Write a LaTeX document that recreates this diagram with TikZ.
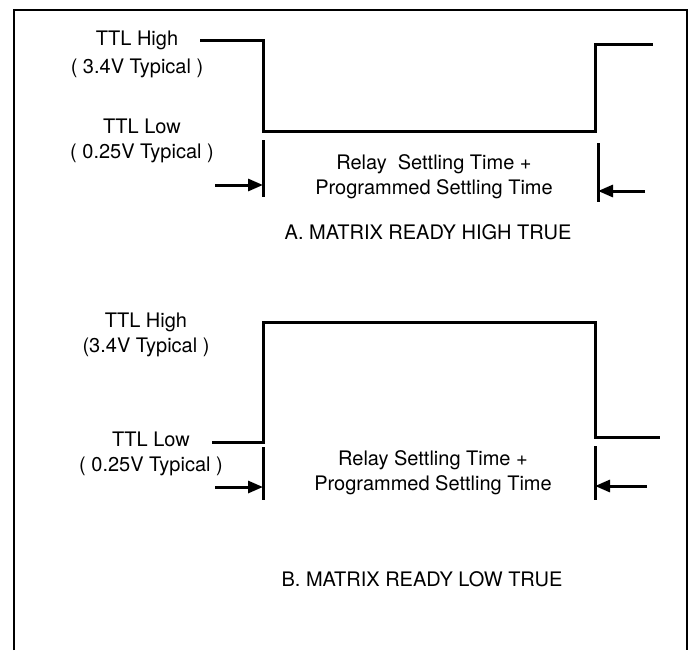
\documentclass[tikz,border=0pt]{standalone}
\usepackage{fontspec}
\setmainfont{TeX Gyre Heros}
\usetikzlibrary{arrows.meta}
\begin{document}
\begin{tikzpicture}[x=1pt, y=-1pt,
        frame/.style={line width=2pt},
        wave/.style={line width=3pt, line join=miter},
        limit/.style={line width=3pt},
        arrow/.style={-{Triangle[length=15pt, width=12pt]}, line width=3pt},
        lbl/.style={font=\fontsize{20}{25}\selectfont, align=center, inner sep=0pt}
    ]
    \useasboundingbox (0,0) rectangle (692,650);
    \draw[frame] (14,650) -- (14,10) -- (687,10) -- (687,650);

    % A. high true
    \node[lbl] (ahigh) at (137,54) {TTL High\\[3pt]( 3.4V Typical )};
    \node[lbl] (alow) at (142,141) {TTL Low\\( 0.25V Typical )};
    \node[lbl] (arelay) at (434,177) {Relay\ \ Settling Time +\\Programmed Settling Time};
    \node[lbl] (atitle) at (428,232) {A. MATRIX READY HIGH TRUE};

    \coordinate (a1) at (200,41);
    \coordinate (a2) at (263,41);
    \coordinate (a3) at (263,131);
    \coordinate (a4) at (595,131);
    \coordinate (a5) at (595,45);
    \coordinate (a6) at (653,45);
    \draw[wave] (a1) -- (a2) -- (a3) -- (a4) -- (a5) -- (a6);

    \coordinate (al1) at (263,140);
    \coordinate (al2) at (263,197);
    \coordinate (ar1) at (598,143);
    \coordinate (ar2) at (598,202);
    \coordinate (alin) at (215,185);
    \coordinate (arin) at (645,191);
    \draw[limit] (al1) -- (al2);
    \draw[limit] (ar1) -- (ar2);
    \draw[arrow] (alin) -- (al1 |- alin);
    \draw[arrow] (arin) -- (ar1 |- arin);

    % B. low true
    \node[lbl] (bhigh) at (146,335) {TTL High\\(3.4V Typical )};
    \node[lbl] (blow) at (151,454) {TTL Low\\( 0.25V Typical )};
    \node[lbl] (brelay) at (433,473) {Relay Settling Time +\\Programmed Settling Time};
    \node[lbl] (btitle) at (422,579) {B. MATRIX READY LOW TRUE};

    \coordinate (b1) at (212,442);
    \coordinate (b2) at (263,442);
    \coordinate (b3) at (263,322);
    \coordinate (b4) at (595,322);
    \coordinate (b5) at (595,437);
    \coordinate (b6) at (660,437);
    \draw[wave] (b1) -- (b2) -- (b3) -- (b4) -- (b5) -- (b6);

    \coordinate (bl1) at (263,447);
    \coordinate (bl2) at (263,500);
    \coordinate (br1) at (595,446);
    \coordinate (br2) at (595,500);
    \coordinate (blin) at (215,487);
    \coordinate (brin) at (647,486);
    \draw[limit] (bl1) -- (bl2);
    \draw[limit] (br1) -- (br2);
    \draw[arrow] (blin) -- (bl1 |- blin);
    \draw[arrow] (brin) -- (br1 |- brin);
\end{tikzpicture}
\end{document}
